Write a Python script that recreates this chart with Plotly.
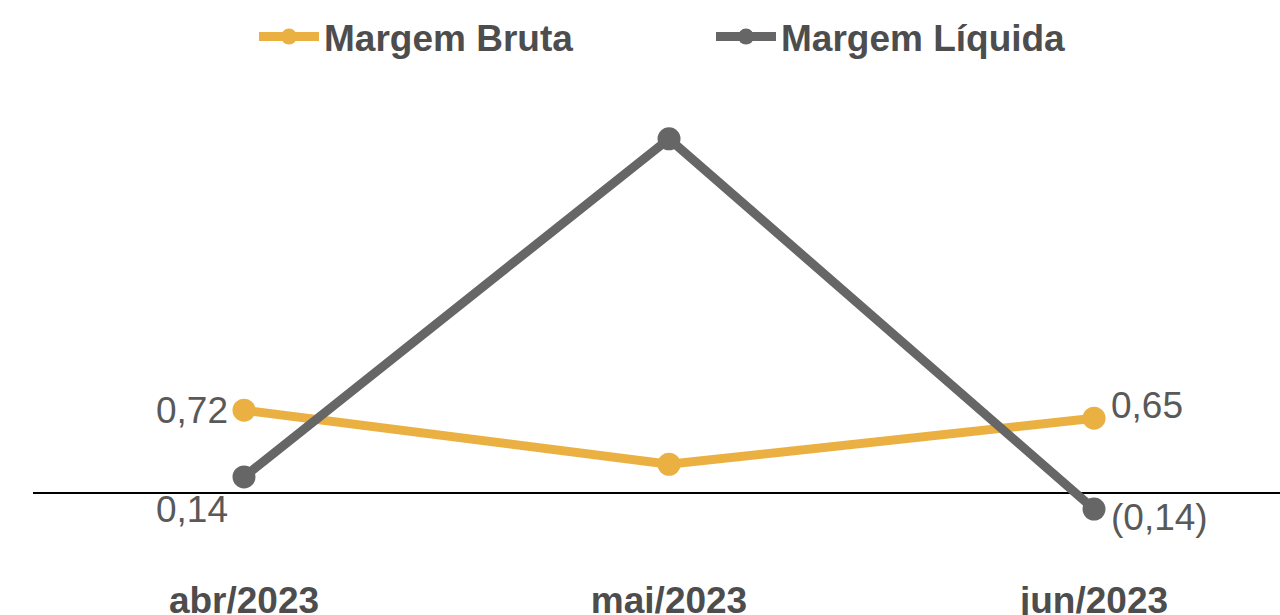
import plotly.graph_objects as go

categories = ["abr/2023", "mai/2023", "jun/2023"]
margem_bruta = [0.72, 0.25, 0.65]
margem_liquida = [0.14, 3.08, -0.14]
show_label = [True, False, True]

def fmt(v):
    s = f"{abs(v):.2f}".replace(".", ",")
    return f"({s})" if v < 0 else s

x = list(range(len(categories)))
FONT = "Liberation Sans, Arial, sans-serif"
LABEL_FONT = dict(family=FONT, size=37, color="#595959")

fig = go.Figure()
fig.add_trace(go.Scatter(
    x=x, y=margem_bruta, name="Margem Bruta", mode="lines+markers",
    line=dict(color="#EBB042", width=9), marker=dict(size=23, color="#EBB042"),
    cliponaxis=False,
))
fig.add_trace(go.Scatter(
    x=x, y=margem_liquida, name="Margem Líquida", mode="lines+markers",
    line=dict(color="#666666", width=9), marker=dict(size=23, color="#666666"),
    cliponaxis=False,
))

# data labels: (series, side, yshift)
label_style = {
    ("bruta", 0): ("right", 0),
    ("bruta", 2): ("left", 13),
    ("liq", 0): ("right", -33),
    ("liq", 2): ("left", -8),
}
for key, vals in (("bruta", margem_bruta), ("liq", margem_liquida)):
    for i, v in enumerate(vals):
        if not show_label[i]:
            continue
        side, ys = label_style[(key, i)]
        fig.add_annotation(
            x=x[i], y=v, text=fmt(v), showarrow=False,
            xanchor=side, yanchor="middle",
            xshift=-14 if side == "right" else 15, yshift=ys,
            font=LABEL_FONT,
        )

fig.update_layout(
    width=1280, height=615,
    margin=dict(l=33, r=0, t=80, b=40, autoexpand=False),
    paper_bgcolor="white", plot_bgcolor="white",
    font=dict(family=FONT, color="#4d4d4d"),
    showlegend=True,
    legend=dict(orientation="h", x=254 / 1280, xanchor="left", xref="container",
                y=1 - 37 / 615, yanchor="middle", yref="container",
                font=dict(family=FONT, size=37, color="#4d4d4d", weight="bold"),
                entrywidth=382, itemwidth=60),
)
fig.update_xaxes(range=[-0.4965, 2.4376], tickvals=x, ticktext=categories,
                 showgrid=False, zeroline=False, showline=False, ticks="",
                 automargin=False,
                 tickfont=dict(family=FONT, size=37, color="#4d4d4d", weight="bold"))
fig.update_yaxes(range=[-0.713, 3.591], showgrid=False, showticklabels=False,
                 automargin=False,
                 zeroline=True, zerolinecolor="black", zerolinewidth=1.5, ticks="")

fig.write_html("out.html", config={"displayModeBar": False},
               post_script="document.body.style.margin='0px';")
